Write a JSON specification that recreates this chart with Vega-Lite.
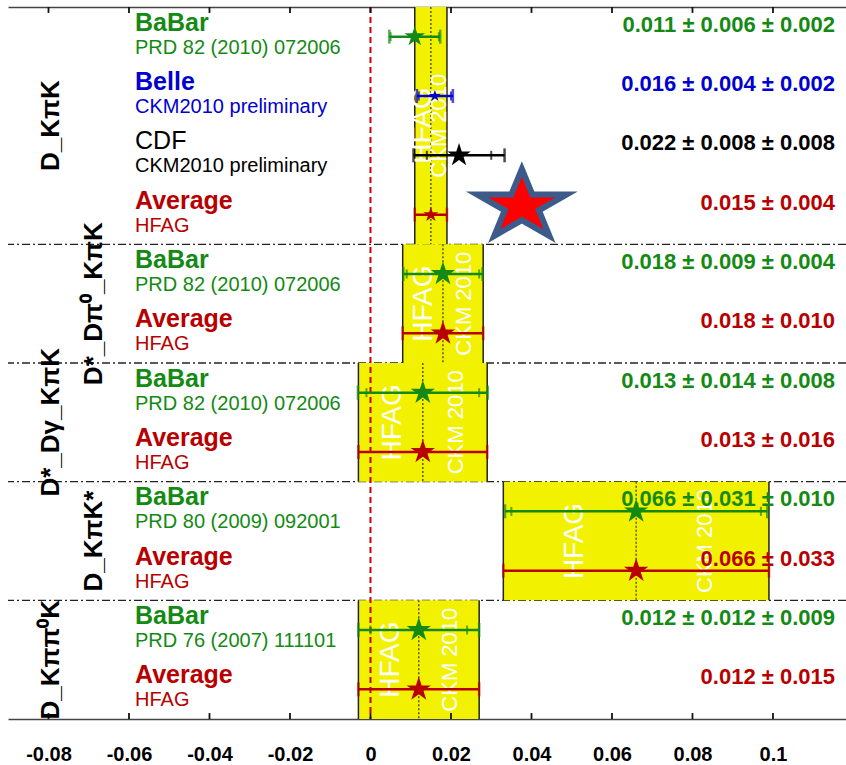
{
  "$schema": "https://vega.github.io/schema/vega-lite/v6.json",
  "width": 838,
  "height": 712,
  "autosize": {"type": "none"},
  "padding": {"left": 8, "top": 7, "right": 0, "bottom": 46},
  "background": "white",
  "config": {"view": {"stroke": null}, "font": "Liberation Sans", "axis": {"grid": false}},
  "datasets": {
    "entries": [
      {"grp": 0, "slot": 0.5, "source": "BaBar", "ref": "PRD 82 (2010) 072006", "val": 0.011, "stat": 0.006, "syst": 0.002, "txt": "0.011 ± 0.006 ± 0.002"},
      {"grp": 0, "slot": 1.5, "source": "Belle", "ref": "CKM2010 preliminary", "val": 0.016, "stat": 0.004, "syst": 0.002, "txt": "0.016 ± 0.004 ± 0.002"},
      {"grp": 0, "slot": 2.5, "source": "CDF", "ref": "CKM2010 preliminary", "val": 0.022, "stat": 0.008, "syst": 0.008, "txt": "0.022 ± 0.008 ± 0.008"},
      {"grp": 0, "slot": 3.5, "source": "Average", "ref": "HFAG", "val": 0.015, "stat": 0.004, "syst": 0, "txt": "0.015 ± 0.004"},
      {"grp": 1, "slot": 4.5, "source": "BaBar", "ref": "PRD 82 (2010) 072006", "val": 0.018, "stat": 0.009, "syst": 0.004, "txt": "0.018 ± 0.009 ± 0.004"},
      {"grp": 1, "slot": 5.5, "source": "Average", "ref": "HFAG", "val": 0.018, "stat": 0.010, "syst": 0, "txt": "0.018 ± 0.010"},
      {"grp": 2, "slot": 6.5, "source": "BaBar", "ref": "PRD 82 (2010) 072006", "val": 0.013, "stat": 0.014, "syst": 0.008, "txt": "0.013 ± 0.014 ± 0.008"},
      {"grp": 2, "slot": 7.5, "source": "Average", "ref": "HFAG", "val": 0.013, "stat": 0.016, "syst": 0, "txt": "0.013 ± 0.016"},
      {"grp": 3, "slot": 8.5, "source": "BaBar", "ref": "PRD 80 (2009) 092001", "val": 0.066, "stat": 0.031, "syst": 0.010, "txt": "0.066 ± 0.031 ± 0.010"},
      {"grp": 3, "slot": 9.5, "source": "Average", "ref": "HFAG", "val": 0.066, "stat": 0.033, "syst": 0, "txt": "0.066 ± 0.033"},
      {"grp": 4, "slot": 10.5, "source": "BaBar", "ref": "PRD 76 (2007) 111101", "val": 0.012, "stat": 0.012, "syst": 0.009, "txt": "0.012 ± 0.012 ± 0.009"},
      {"grp": 4, "slot": 11.5, "source": "Average", "ref": "HFAG", "val": 0.012, "stat": 0.015, "syst": 0, "txt": "0.012 ± 0.015"}
    ],
    "groups": [
      {"grp": 0, "name": "D_KπK", "y0": 0, "y1": 4, "avg": 0.015, "err": 0.004},
      {"grp": 1, "name": "D*_Dπ⁰_KπK", "y0": 4, "y1": 6, "avg": 0.018, "err": 0.010},
      {"grp": 2, "name": "D*_Dγ_KπK", "y0": 6, "y1": 8, "avg": 0.013, "err": 0.016},
      {"grp": 3, "name": "D_KπK*", "y0": 8, "y1": 10, "avg": 0.066, "err": 0.033},
      {"grp": 4, "name": "D_Kππ⁰K", "y0": 10, "y1": 12, "avg": 0.012, "err": 0.015}
    ],
    "frameTicks": [
      {"v": -0.08}, {"v": -0.06}, {"v": -0.04}, {"v": -0.02}, {"v": 0},
      {"v": 0.02}, {"v": 0.04}, {"v": 0.06}, {"v": 0.08}, {"v": 0.1}
    ]
  },
  "resolve": {"axis": {"x": "independent"}},
  "layer": [
    {
      "description": "dash-dot separators between decay modes, plus the left frame",
      "data": {"name": "groups"},
      "transform": [{"filter": "datum.grp < 4"}],
      "mark": {"type": "rule", "color": "#222", "strokeWidth": 1.3, "strokeDash": [8, 3, 2, 3]},
      "encoding": {
        "y": {"field": "y1", "type": "quantitative", "scale": {"domain": [0, 12], "reverse": true, "nice": false, "zero": false},
              "axis": {"orient": "left", "labels": false, "ticks": false, "title": null, "domainColor": "#444", "domainWidth": 1.5}}
      }
    },
    {
      "description": "HFAG average bands, with the bottom frame and its labels",
      "data": {"name": "groups"},
      "transform": [{"calculate": "datum.avg - datum.err", "as": "lo"}, {"calculate": "datum.avg + datum.err", "as": "hi"}],
      "mark": {"type": "rect", "fill": "#f2f200"},
      "encoding": {
        "x": {"field": "lo", "type": "quantitative", "scale": {"domain": [-0.09006, 0.11814], "nice": false, "zero": false},
              "axis": {"orient": "bottom", "values": [-0.08, -0.06, -0.04, -0.02, 0, 0.02, 0.04, 0.06, 0.08, 0.1],
                       "labelExpr": "'' + datum.value", "labelFont": "Liberation Sans", "labelFontWeight": "bold", "labelFontSize": 20,
                       "labelColor": "#000", "labelPadding": 25, "ticks": false,
                       "domainColor": "#444", "domainWidth": 1.5, "title": null, "labelFlush": false, "labelOverlap": false}},
        "x2": {"field": "hi"},
        "y": {"field": "y0", "type": "quantitative", "axis": null},
        "y2": {"field": "y1"}
      }
    },
    {
      "description": "left edges of the bands, with the top frame",
      "data": {"name": "groups"},
      "transform": [{"calculate": "datum.avg - datum.err", "as": "lo"}],
      "mark": {"type": "rule", "color": "#222", "strokeWidth": 1.5},
      "encoding": {
        "x": {"field": "lo", "type": "quantitative",
              "axis": {"orient": "top", "labels": false, "ticks": false,
                       "domainColor": "#444", "domainWidth": 1.5, "title": null}},
        "y": {"field": "y0", "type": "quantitative", "axis": null},
        "y2": {"field": "y1"}
      }
    },
    {
      "description": "right edges of the bands",
      "data": {"name": "groups"},
      "transform": [{"calculate": "datum.avg + datum.err", "as": "hi"}],
      "mark": {"type": "rule", "color": "#222", "strokeWidth": 1.5},
      "encoding": {
        "x": {"field": "hi", "type": "quantitative", "axis": null},
        "y": {"field": "y0", "type": "quantitative", "axis": null},
        "y2": {"field": "y1"}
      }
    },
    {
      "description": "dotted line at each average",
      "data": {"name": "groups"},
      "mark": {"type": "rule", "color": "#333", "strokeWidth": 1.2, "strokeDash": [2, 2]},
      "encoding": {
        "x": {"field": "avg", "type": "quantitative", "axis": null},
        "y": {"field": "y0", "type": "quantitative", "axis": null},
        "y2": {"field": "y1"}
      }
    },
    {
      "description": "HFAG watermark inside each band",
      "data": {"name": "groups"},
      "transform": [{"calculate": "datum.avg - 0.46 * datum.err", "as": "tx"}, {"calculate": "(datum.y0 + datum.y1) / 2", "as": "mid"}],
      "mark": {"type": "text", "text": "HFAG", "angle": 270, "align": "center", "baseline": "middle", "fontSize": 28, "color": "white", "font": "Liberation Sans"},
      "encoding": {
        "x": {"field": "tx", "type": "quantitative", "axis": null},
        "y": {"field": "mid", "type": "quantitative", "axis": null}
      }
    },
    {
      "description": "CKM 2010 watermark inside each band",
      "data": {"name": "groups"},
      "transform": [{"calculate": "datum.avg + 0.52 * datum.err", "as": "tx"}, {"calculate": "(datum.y0 + datum.y1) / 2", "as": "mid"}],
      "mark": {"type": "text", "text": "CKM 2010", "angle": 270, "align": "center", "baseline": "middle", "fontSize": 22, "color": "white", "font": "Liberation Sans"},
      "encoding": {
        "x": {"field": "tx", "type": "quantitative", "axis": null},
        "y": {"field": "mid", "type": "quantitative", "axis": null}
      }
    },
    {
      "description": "zero line",
      "data": {"values": [{}]},
      "mark": {"type": "rule", "color": "#cc0000", "strokeWidth": 2, "strokeDash": [6, 4]},
      "encoding": {"x": {"datum": 0, "type": "quantitative", "axis": null}}
    },
    {
      "description": "inward ticks on the bottom frame",
      "data": {"name": "frameTicks"},
      "transform": [{"calculate": "12", "as": "edge"}, {"calculate": "11.9", "as": "inner"}],
      "mark": {"type": "rule", "color": "#111", "strokeWidth": 1.8},
      "encoding": {
        "x": {"field": "v", "type": "quantitative", "axis": null},
        "y": {"field": "edge", "type": "quantitative", "axis": null},
        "y2": {"field": "inner"}
      }
    },
    {
      "description": "inward ticks on the top frame",
      "data": {"name": "frameTicks"},
      "transform": [{"calculate": "0", "as": "edge"}, {"calculate": "0.1", "as": "inner"}],
      "mark": {"type": "rule", "color": "#111", "strokeWidth": 1.8},
      "encoding": {
        "x": {"field": "v", "type": "quantitative", "axis": null},
        "y": {"field": "edge", "type": "quantitative", "axis": null},
        "y2": {"field": "inner"}
      }
    },
    {
      "description": "total error bars",
      "data": {"name": "entries"},
      "transform": [
        {"calculate": "sqrt(datum.stat * datum.stat + datum.syst * datum.syst)", "as": "tot"},
        {"calculate": "datum.val - datum.tot", "as": "lo_t"},
        {"calculate": "datum.val + datum.tot", "as": "hi_t"}
      ],
      "mark": {"type": "rule", "strokeWidth": 2.5},
      "encoding": {
        "x": {"field": "lo_t", "type": "quantitative", "axis": null},
        "x2": {"field": "hi_t"},
        "y": {"field": "slot", "type": "quantitative", "axis": null},
        "color": {"field": "source", "type": "nominal", "legend": null,
                  "scale": {"domain": ["BaBar", "Belle", "CDF", "Average"], "range": ["#148a14", "#0000d0", "#000000", "#b80000"]}}
      }
    },
    {
      "description": "outer caps",
      "data": {"name": "entries"},
      "transform": [
        {"calculate": "sqrt(datum.stat * datum.stat + datum.syst * datum.syst)", "as": "tot"},
        {"calculate": "datum.val - datum.tot", "as": "lo_t"},
        {"calculate": "datum.val + datum.tot", "as": "hi_t"},
        {"fold": ["lo_t", "hi_t"], "as": ["end", "pos"]}
      ],
      "mark": {"type": "tick", "orient": "vertical", "size": 14, "thickness": 2.5},
      "encoding": {
        "x": {"field": "pos", "type": "quantitative", "axis": null},
        "y": {"field": "slot", "type": "quantitative", "axis": null},
        "color": {"field": "source", "type": "nominal", "legend": null}
      }
    },
    {
      "description": "statistical error caps",
      "data": {"name": "entries"},
      "transform": [
        {"filter": "datum.syst > 0"},
        {"calculate": "datum.val - datum.stat", "as": "lo_s"},
        {"calculate": "datum.val + datum.stat", "as": "hi_s"},
        {"fold": ["lo_s", "hi_s"], "as": ["end", "pos"]}
      ],
      "mark": {"type": "tick", "orient": "vertical", "size": 9, "thickness": 2},
      "encoding": {
        "x": {"field": "pos", "type": "quantitative", "axis": null},
        "y": {"field": "slot", "type": "quantitative", "axis": null},
        "color": {"field": "source", "type": "nominal", "legend": null}
      }
    },
    {
      "description": "central values",
      "data": {"name": "entries"},
      "mark": {"type": "point", "filled": true, "opacity": 1, "strokeWidth": 0,
               "shape": "M0,-1L0.2245,-0.309L0.9511,-0.309L0.3633,0.118L0.5878,0.809L0,0.382L-0.5878,0.809L-0.3633,0.118L-0.9511,-0.309L-0.2245,-0.309Z"},
      "encoding": {
        "x": {"field": "val", "type": "quantitative", "axis": null},
        "y": {"field": "slot", "type": "quantitative", "axis": null},
        "color": {"field": "source", "type": "nominal", "legend": null},
        "size": {"condition": [
                   {"test": "datum.source === 'Belle'", "value": 150},
                   {"test": "datum.grp === 0 && datum.source === 'Average'", "value": 250},
                   {"test": "datum.grp === 0 && datum.source === 'BaBar'", "value": 460},
                   {"test": "datum.source === 'CDF'", "value": 600}
                 ], "value": 650}
      }
    },
    {
      "description": "experiment names",
      "data": {"name": "entries"},
      "transform": [{"filter": "datum.source !== 'CDF'"}],
      "mark": {"type": "text", "align": "left", "baseline": "middle", "fontSize": 25, "fontWeight": "bold", "dy": -14},
      "encoding": {
        "x": {"datum": -0.0585, "type": "quantitative", "axis": null},
        "y": {"field": "slot", "type": "quantitative", "axis": null},
        "text": {"field": "source"},
        "color": {"field": "source", "type": "nominal", "legend": null}
      }
    },
    {
      "description": "experiment names in the regular weight",
      "data": {"name": "entries"},
      "transform": [{"filter": "datum.source === 'CDF'"}],
      "mark": {"type": "text", "align": "left", "baseline": "middle", "fontSize": 25, "dy": -14},
      "encoding": {
        "x": {"datum": -0.0585, "type": "quantitative", "axis": null},
        "y": {"field": "slot", "type": "quantitative", "axis": null},
        "text": {"field": "source"},
        "color": {"field": "source", "type": "nominal", "legend": null}
      }
    },
    {
      "description": "references",
      "data": {"name": "entries"},
      "mark": {"type": "text", "align": "left", "baseline": "middle", "fontSize": 20, "dy": 11},
      "encoding": {
        "x": {"datum": -0.0585, "type": "quantitative", "axis": null},
        "y": {"field": "slot", "type": "quantitative", "axis": null},
        "text": {"field": "ref"},
        "color": {"field": "source", "type": "nominal", "legend": null}
      }
    },
    {
      "description": "measured values",
      "data": {"name": "entries"},
      "mark": {"type": "text", "align": "right", "baseline": "middle", "fontSize": 22, "fontWeight": "bold", "dy": -12},
      "encoding": {
        "x": {"datum": 0.1154, "type": "quantitative", "axis": null},
        "y": {"field": "slot", "type": "quantitative", "axis": null},
        "text": {"field": "txt"},
        "color": {"field": "source", "type": "nominal", "legend": null}
      }
    },
    {
      "description": "decay mode names, outer column",
      "data": {"name": "groups"},
      "transform": [{"filter": "datum.grp % 2 === 0"}, {"calculate": "(datum.y0 + datum.y1) / 2", "as": "mid"}],
      "mark": {"type": "text", "angle": 270, "align": "center", "baseline": "middle", "fontSize": 26, "fontWeight": "bold", "color": "#000"},
      "encoding": {
        "x": {"datum": -0.0794, "type": "quantitative", "axis": null},
        "y": {"field": "mid", "type": "quantitative", "axis": null},
        "text": {"field": "name"}
      }
    },
    {
      "description": "decay mode names, inner column",
      "data": {"name": "groups"},
      "transform": [{"filter": "datum.grp % 2 === 1"}, {"calculate": "(datum.y0 + datum.y1) / 2", "as": "mid"}],
      "mark": {"type": "text", "angle": 270, "align": "center", "baseline": "middle", "fontSize": 26, "fontWeight": "bold", "color": "#000"},
      "encoding": {
        "x": {"datum": -0.0688, "type": "quantitative", "axis": null},
        "y": {"field": "mid", "type": "quantitative", "axis": null},
        "text": {"field": "name"}
      }
    },
    {
      "description": "highlight star",
      "data": {"values": [{}]},
      "mark": {"type": "point", "filled": true, "opacity": 1, "fill": "#ff0000", "stroke": "#3c5b8a", "strokeWidth": 6, "strokeJoin": "miter", "strokeOpacity": 1, "fillOpacity": 1, "size": 5476,
               "shape": "M0,-1L0.2851,-0.309L1.2079,-0.309L0.4614,0.118L0.7465,0.809L0,0.382L-0.7465,0.809L-0.4614,0.118L-1.2079,-0.309L-0.2851,-0.309Z"},
      "encoding": {
        "x": {"datum": 0.0376, "type": "quantitative", "axis": null},
        "y": {"datum": 3.354, "type": "quantitative", "axis": null}
      }
    }
  ]
}
